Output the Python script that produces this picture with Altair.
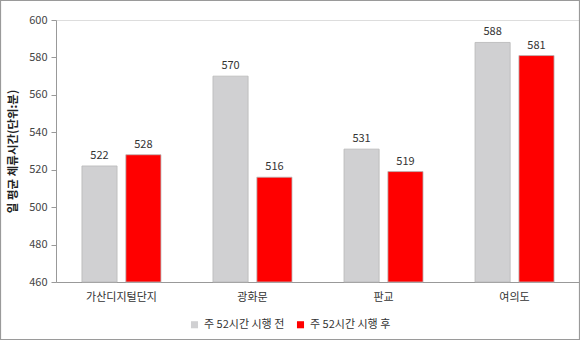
import altair as alt
import pandas as pd

regions = ["가산디지털단지", "광화문", "판교", "여의도"]
series = ["주 52시간 시행 전", "주 52시간 시행 후"]
before = [522, 570, 531, 588]
after = [528, 516, 519, 581]
colors = ["#d0d0d2", "#ff0000"]
y_ticks = [460, 480, 500, 520, 540, 560, 580, 600]

rows = []
for r, b, a in zip(regions, before, after):
    rows.append({"region": r, "series": series[0], "value": b})
    rows.append({"region": r, "series": series[1], "value": a})
df = pd.DataFrame(rows)

FONT = "Noto Sans CJK KR"
W, H = 524, 262

base = alt.Chart(df).encode(
    x=alt.X("region:N", sort=regions,
            scale=alt.Scale(paddingInner=0.397, paddingOuter=0.198),
            axis=alt.Axis(title=None, labelAngle=0, ticks=False, labelPadding=9,
                          labelFontSize=11, labelColor="#333333", labelFont=FONT,
                          domainColor="#999999")),
    xOffset=alt.XOffset("series:N", sort=series,
                        scale=alt.Scale(paddingInner=0.2, paddingOuter=0)),
    y=alt.Y("value:Q",
            scale=alt.Scale(domain=[460, 600], nice=False, zero=False, clamp=True),
            axis=alt.Axis(title="일 평균 체류시간(단위:분)", values=y_ticks, grid=False,
                          labelOverlap=False,
                          tickSize=5, tickColor="#999999", domainColor="#999999",
                          labelFontSize=11, labelColor="#444444", labelFont=FONT,
                          titleFont=FONT, titleFontSize=11.5, titleFontWeight="bold",
                          titleColor="#222222", titlePadding=10, labelPadding=4)),
)

bars = base.mark_bar(stroke="#b8b8b8", strokeWidth=0.8).encode(
    color=alt.Color("series:N", sort=series,
                    scale=alt.Scale(domain=series, range=colors),
                    legend=alt.Legend(title=None, orient="none", direction="horizontal",
                                      legendX=133, legendY=299, symbolType="square",
                                      symbolSize=50, symbolStrokeWidth=0,
                                      labelFontSize=11, labelColor="#333333",
                                      labelFont=FONT, columnPadding=10, symbolOffset=0)),
)

labels = base.mark_text(dy=-10, fontSize=11, font=FONT, color="#333333").encode(
    text=alt.Text("value:Q"),
)

border = alt.Chart(pd.DataFrame({"a": [0]})).mark_rect(
    fill=None, stroke="#9a9a9a", strokeWidth=1.2
).encode(
    x=alt.value(-55.5), x2=alt.value(523.5), y=alt.value(-19.5), y2=alt.value(319.5)
)

chart = alt.layer(bars, labels, border).properties(
    width=W, height=H,
    autosize=alt.AutoSizeParams(type="none"),
    padding={"left": 56, "top": 20, "right": 0, "bottom": 58},
).configure_view(stroke=None).configure(background="white")

chart.save("out.html", embed_options={"renderer": "svg", "actions": False})
